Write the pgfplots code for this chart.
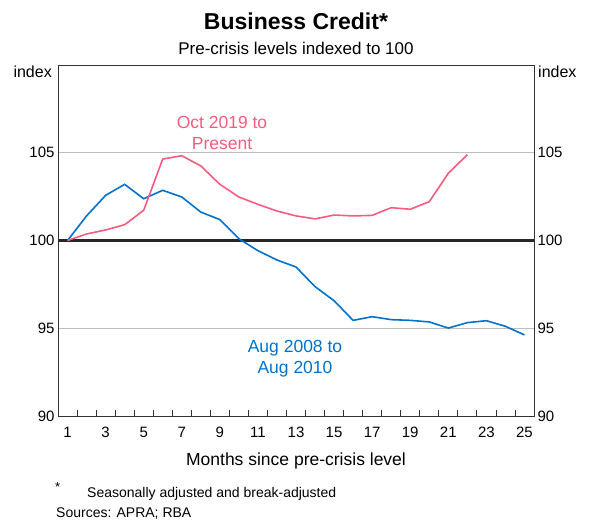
\documentclass[border=0pt]{standalone}
\usepackage{pgfplots}
\pgfplotsset{compat=1.18}
\usepackage{pgfplotstable}
\usepackage{fontspec}
\setmainfont{Liberation Sans}
\definecolor{rbablue}{RGB}{0,114,206}
\definecolor{rbapink}{RGB}{246,92,126}
\definecolor{gridgrey}{RGB}{190,190,190}

\pgfplotstableread{
m v
1 100
2 101.40
3 102.57
4 103.20
5 102.38
6 102.86
7 102.48
8 101.62
9 101.19
10 100.10
11 99.42
12 98.89
13 98.49
14 97.37
15 96.57
16 95.45
17 95.66
18 95.49
19 95.45
20 95.36
21 95.01
22 95.32
23 95.43
24 95.11
25 94.62
}\gfc

\pgfplotstableread{
m v
1 100
2 100.37
3 100.60
4 100.90
5 101.72
6 104.64
7 104.83
8 104.25
9 103.20
10 102.48
11 102.06
12 101.68
13 101.40
14 101.23
15 101.45
16 101.40
17 101.43
18 101.87
19 101.78
20 102.21
21 103.83
22 104.89
}\covid

\begin{document}
\begin{tikzpicture}
\path[use as bounding box] (0bp,0bp) rectangle (590bp,520bp);
\pgfplotsset{
  common/.style={
    at={(58bp,104bp)}, anchor=south west,
    scale only axis, width=476bp, height=351bp,
    xmin=0.5, xmax=25.5, ymin=90, ymax=110,
    ytick={90,95,100,105},
    ytick style={draw=none},
    tick label style={font=\fontsize{15bp}{18bp}\selectfont},
    /pgf/number format/assume math mode=true,
  }
}
\begin{axis}[common,
  axis line style={draw=black!80, line width=0.9bp},
  xtick={1,3,...,25},
  minor xtick={1.5,2.5,...,24.5},
  xtick pos=bottom,
  major tick length=0pt,
  minor tick length=6bp,
  minor tick style={draw=black!80, line width=0.8bp},
  xticklabel style={anchor=base, yshift=-21.5bp},
  yticklabel pos=left,
  ymajorgrids,
  grid style={gridgrey, line width=0.9bp},
]
\addplot[black!85, line width=2.2bp, forget plot] coordinates {(0.5,100) (25.5,100)};
\addplot[rbablue, line width=1.6bp] table[x=m, y=v] {\gfc};
\addplot[rbapink, line width=1.6bp] table[x=m, y=v] {\covid};
\end{axis}
\begin{axis}[common,
  hide x axis,
  axis line style={draw=none},
  yticklabel pos=right,
]
\addplot[draw=none] coordinates {(1,100)};
\end{axis}

% titles
\node[anchor=base, font=\bfseries\fontsize{23bp}{26bp}\selectfont] at (296bp,490bp) {Business Credit*};
\node[anchor=base, font=\fontsize{17bp}{20bp}\selectfont] at (296bp,465bp) {Pre-crisis levels indexed to 100};
\node[anchor=base east, inner sep=0pt, font=\fontsize{16bp}{19bp}\selectfont] at (52bp,442bp) {index};
\node[anchor=base west, inner sep=0pt, font=\fontsize{16bp}{19bp}\selectfont] at (538bp,442bp) {index};

% annotations
\node[align=center, text=rbapink, font=\fontsize{17.5bp}{21bp}\selectfont] at (222bp,387.5bp) {Oct 2019 to\\Present};
\node[align=center, text=rbablue, font=\fontsize{17.5bp}{21bp}\selectfont] at (295bp,161bp) {Aug 2008 to\\Aug 2010};

% x label and footnotes
\node[anchor=base, font=\fontsize{17.5bp}{20bp}\selectfont] at (296bp,54bp) {Months since pre-crisis level};
\node[anchor=base west, inner sep=0pt, font=\fontsize{13bp}{15bp}\selectfont] at (55bp,29bp) {*};
\node[anchor=base west, inner sep=0pt, font=\fontsize{14bp}{17bp}\selectfont] at (87bp,23bp) {Seasonally adjusted and break-adjusted};
\node[anchor=base west, inner sep=0pt, font=\fontsize{14bp}{17bp}\selectfont] at (56bp,3bp) {Sources: APRA; RBA};
\end{tikzpicture}
\end{document}
